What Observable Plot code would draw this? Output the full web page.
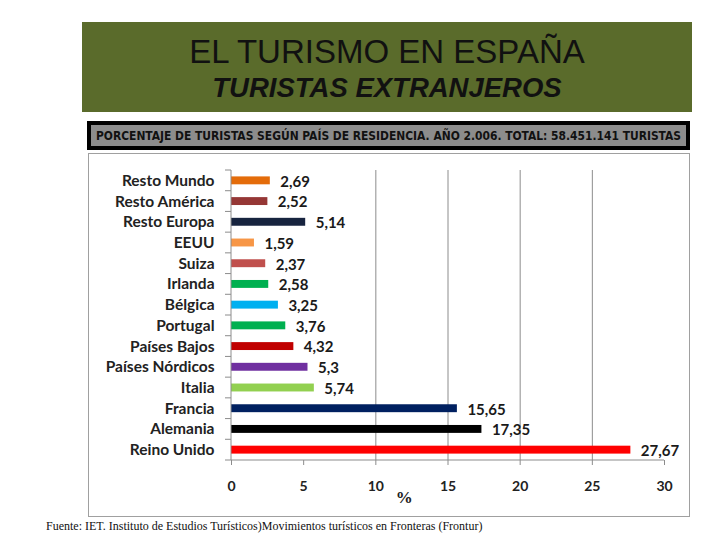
<!DOCTYPE html>
<html>
<head>
<meta charset="utf-8">
<script src="https://cdn.jsdelivr.net/npm/d3@7"></script>
<script src="https://cdn.jsdelivr.net/npm/@observablehq/plot@0.6"></script>
<style>
  html, body { margin: 0; padding: 0; background: #fff; width: 720px; height: 540px; overflow: hidden; }
  #header { position: absolute; left: 82px; top: 22px; width: 610px; height: 90px; background: #5a6b2b; text-align: center; font-family: "Liberation Sans", Arial, sans-serif; color: #111; }
  #header .t1 { position: absolute; left: 0; right: 0; top: 12px; font-size: 33px; line-height: 36px; }
  #header .t2 { position: absolute; left: 0; right: 0; top: 51px; font-size: 27.5px; line-height: 30px; font-style: italic; font-weight: bold; }
  #sub { position: absolute; left: 87px; top: 121px; width: 595px; height: 21px; background: #8c8c8c; border: 4px solid #000; font-family: "Liberation Sans Narrow", "DejaVu Sans Condensed", sans-serif; font-weight: bold; font-size: 12.5px; line-height: 21px; white-space: nowrap; color: #111; overflow: hidden; }
  #sub span { display: inline-block; transform-origin: 0 50%; margin-left: 5px; }
  #box { position: absolute; left: 88px; top: 153px; width: 600px; height: 362px; border: 1.5px solid #a0a0a0; background: #fff; }
  #chart { position: absolute; left: 0; top: 0; }
  #foot { position: absolute; left: 46px; top: 519px; font-family: "Liberation Serif", "Times New Roman", serif; font-size: 12px; letter-spacing: 0px; white-space: nowrap; color: #111; }
</style>
</head>
<body>
<div id="header"><div class="t1">EL TURISMO EN ESPAÑA</div><div class="t2">TURISTAS EXTRANJEROS</div></div>
<div id="sub"><span id="subtext">PORCENTAJE DE TURISTAS SEGÚN PAÍS DE RESIDENCIA. AÑO 2.006. TOTAL: 58.451.141 TURISTAS</span></div>
<div id="box"><div id="chart"></div></div>
<div id="foot">Fuente: IET. Instituto de Estudios Turísticos)Movimientos turísticos en Fronteras (Frontur)</div>
<script>
const countries = ["Resto Mundo","Resto América","Resto Europa","EEUU","Suiza","Irlanda","Bélgica","Portugal","Países Bajos","Países Nórdicos","Italia","Francia","Alemania","Reino Unido"];
const percents = [2.69, 2.52, 5.14, 1.59, 2.37, 2.58, 3.25, 3.76, 4.32, 5.3, 5.74, 15.65, 17.35, 27.67];
const colors = ["#e46c0a","#953735","#17243f","#f79646","#c0504d","#00b050","#00b0f0","#00b050","#c00000","#7030a0","#92d050","#002060","#000000","#ff0000"];
const xTicks = [0, 5, 10, 15, 20, 25, 30];
const gridTicks = [10, 15, 20, 25];
const axisLabel = "%";

const data = countries.map((c, i) => ({country: c, pct: percents[i], color: colors[i], label: String(percents[i]).replace(".", ",")}));

const font = "Lato, 'Open Sans', sans-serif";
const mTop = 16, mBottom = 54, H = 360;
const plot = Plot.plot({
  width: 600,
  height: H,
  marginLeft: 142,
  marginRight: 25,
  marginTop: mTop,
  marginBottom: mBottom,
  style: {fontFamily: font, background: "transparent", overflow: "visible"},
  x: {domain: [0, 30], ticks: xTicks, label: null},
  y: {domain: countries, label: null, padding: 0, round: false},
  marks: [
    Plot.ruleX(gridTicks, {stroke: "#8c8c8c", strokeWidth: 1, strokeOpacity: 1}),
    Plot.barX(data, {y: "country", x: "pct", fill: "color", insetTop: 6.4, insetBottom: 6.4}),
    Plot.text(data, {y: "country", x: "pct", text: "label", textAnchor: "start", dx: 10, dy: 1, fontWeight: "bold", fontSize: 15, fill: "#1a1a1a"}),
    Plot.axisY({tickSize: 0, tickPadding: 17, fontSize: 15.5, fontWeight: "bold", fill: "#222"}),
    Plot.axisX({ticks: xTicks, tickSize: 5, tickPadding: 16, fontSize: 14, fontWeight: "bold", fill: "#222", stroke: "#8c8c8c", tickFormat: d => String(d)})
  ]
});
document.getElementById("chart").appendChild(plot);

// axis lines and band-boundary ticks positioned through the scales
const svg = d3.select(plot);
const xs = plot.scale("x");
const x0 = xs.apply(0), x30 = xs.apply(30);
const yTop = mTop, yBot = H - mBottom;
const g = svg.append("g").attr("stroke", "#8c8c8c").attr("stroke-width", 1);
g.append("line").attr("x1", x0).attr("x2", x0).attr("y1", yTop).attr("y2", yBot);
g.append("line").attr("x1", x0).attr("x2", x30).attr("y1", yBot).attr("y2", yBot);
for (let i = 0; i <= countries.length; i++) {
  const yy = yTop + i * (yBot - yTop) / countries.length;
  g.append("line").attr("x1", x0 - 6).attr("x2", x0).attr("y1", yy).attr("y2", yy);
}
svg.append("text").attr("x", xs.apply(12)).attr("y", yBot + 43).attr("text-anchor", "middle")
  .attr("font-family", "'Liberation Serif', serif").attr("font-size", 17).attr("font-weight", "bold").attr("fill", "#222").text(axisLabel);

// fit subtitle text into the box width
const st = document.getElementById("subtext");
const w = st.getBoundingClientRect().width;
st.style.transform = `scaleX(${585 / w})`;
</script>
</body>
</html>
